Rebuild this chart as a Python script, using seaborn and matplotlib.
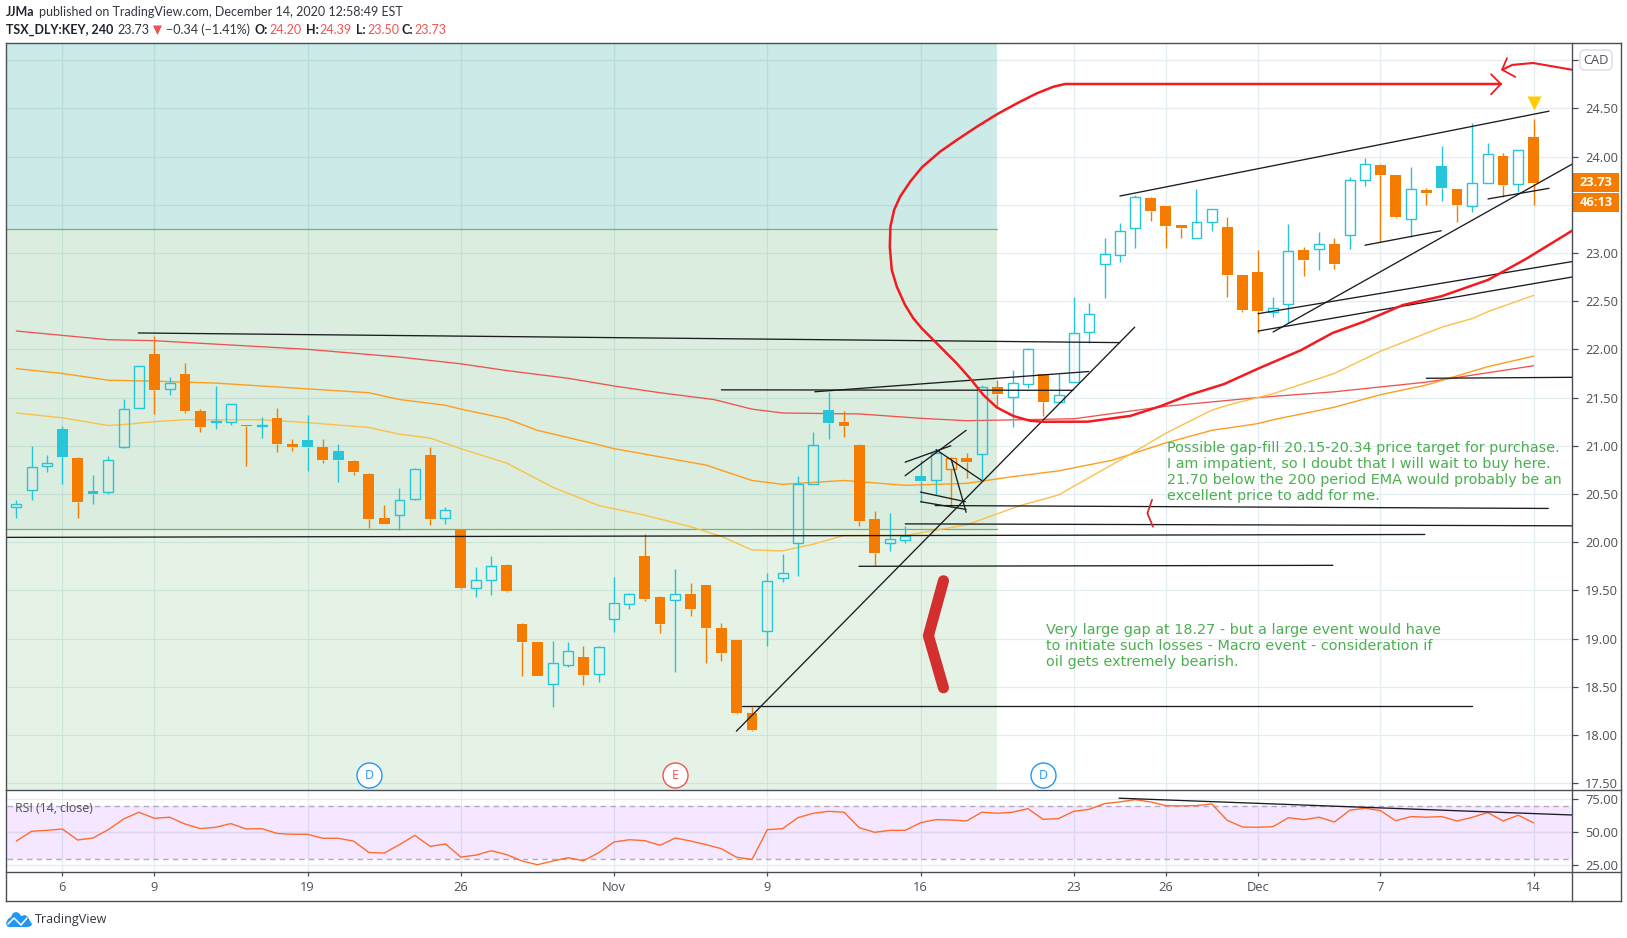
import matplotlib
matplotlib.use("Agg")
import matplotlib.pyplot as plt
from matplotlib.patches import Rectangle, Polygon, FancyBboxPatch
import seaborn as sns

sns.set_theme(style="white")
plt.rcParams["font.family"] = ["Open Sans", "DejaVu Sans"]

highs = [20.44,21.00,20.90,21.20,20.88,20.70,20.89,21.48,21.83,22.14,21.71,21.86,21.38,21.62,21.43,21.21,21.30,21.39,21.07,21.32,
         21.07,21.02,20.85,20.72,20.39,20.56,20.77,20.99,20.37,20.14,19.74,19.86,19.77,19.16,18.97,18.98,18.97,18.92,18.92,19.64,
         19.47,20.08,19.44,19.72,19.58,19.56,19.16,18.99,18.29,19.68,19.88,20.69,21.14,21.56,21.36,21.02,20.32,20.30,20.17,20.85,
         20.97,20.88,20.93,21.63,21.68,21.79,22.01,21.74,21.74,22.54,22.48,23.15,23.31,23.60,23.58,23.49,23.29,23.66,23.46,23.37,
         22.77,23.03,22.54,23.30,23.06,23.22,23.15,23.79,23.98,23.92,23.81,23.89,23.67,24.11,23.66,24.35,24.14,24.04,24.07,24.39]
lows = [20.25,20.44,20.73,20.60,20.25,20.40,20.50,20.98,21.39,21.33,21.53,21.34,21.14,21.17,21.22,20.79,21.08,20.94,20.95,20.74,
        20.82,20.62,20.70,20.15,20.19,20.13,20.44,20.18,20.19,19.51,19.43,19.45,19.48,18.61,18.61,18.29,18.71,18.52,18.55,19.07,
        19.31,19.39,19.06,18.65,19.23,18.75,18.77,18.22,18.04,18.92,19.59,19.65,20.60,21.07,21.09,20.17,19.75,19.91,19.99,20.42,
        20.49,20.36,20.67,20.64,21.41,21.19,21.60,21.31,21.45,21.66,22.07,22.53,22.91,23.05,23.33,23.05,23.16,23.16,23.23,22.54,
        22.39,22.17,22.34,22.27,22.76,22.82,22.83,23.04,23.69,23.11,23.36,23.17,23.50,23.54,23.32,23.42,23.73,23.58,23.63,23.50]
opens = [20.36,20.54,20.79,21.17,20.87,20.53,20.52,20.99,21.39,21.95,21.59,21.74,21.36,21.25,21.25,21.20,21.20,21.29,21.02,21.06,
         20.99,20.95,20.84,20.71,20.25,20.28,20.45,20.90,20.25,20.13,19.52,19.61,19.76,19.15,18.96,18.53,18.73,18.81,18.63,19.20,
         19.36,19.86,19.43,19.40,19.46,19.56,19.11,18.99,18.23,19.08,19.63,19.99,20.60,21.37,21.25,21.01,20.24,19.99,20.02,20.69,
         20.64,20.76,20.87,20.91,21.61,21.51,21.64,21.74,21.45,21.66,22.18,22.88,22.98,23.26,23.57,23.49,23.29,23.16,23.32,23.27,
         22.77,22.80,22.39,22.47,23.03,23.04,23.09,23.19,23.76,23.91,23.81,23.35,23.65,23.90,23.66,23.49,23.73,24.01,23.71,24.20]
closes = [20.40,20.78,20.82,20.88,20.42,20.50,20.85,21.38,21.83,21.58,21.65,21.36,21.19,21.26,21.43,21.20,21.22,21.02,20.99,20.99,
          20.85,20.85,20.73,20.24,20.19,20.44,20.76,20.24,20.33,19.53,19.61,19.75,19.49,18.96,18.61,18.75,18.87,18.62,18.91,19.37,
          19.46,19.41,19.15,19.46,19.31,19.11,18.85,18.23,18.05,19.60,19.68,20.60,21.01,21.24,21.21,20.22,19.89,20.03,20.06,20.63,
          20.92,20.87,20.83,21.61,21.54,21.65,22.00,21.45,21.53,22.17,22.37,22.99,23.23,23.58,23.43,23.28,23.26,23.32,23.46,22.77,
          22.41,22.40,22.43,23.02,22.93,23.09,22.89,23.76,23.92,23.81,23.37,23.66,23.62,23.67,23.50,23.73,24.03,23.70,24.07,23.73]

rsi_values = [43.4,50.8,51.5,52.5,44.2,45.7,52.0,60.1,65.2,60.6,61.4,56.3,52.8,53.8,56.6,52.5,52.8,49.2,48.5,48.5,
              45.5,45.5,43.4,34.8,34.3,40.7,47.7,39.4,41.2,31.3,32.8,36.1,33.1,28.3,25.5,28.3,30.8,28.5,34.6,42.7,
              44.4,43.7,40.2,45.7,43.4,40.7,37.6,31.1,29.5,52.0,52.8,61.1,64.4,65.9,65.2,53.5,50.0,51.5,51.5,57.3,
              59.6,59.3,58.6,65.2,64.4,65.2,67.9,59.8,60.4,65.9,67.4,71.7,73.0,74.7,73.0,70.2,70.0,70.2,71.5,59.1,
              54.0,53.8,54.3,61.1,59.6,61.4,57.8,66.7,68.2,66.4,58.8,61.9,61.4,61.9,58.6,61.4,64.9,58.6,62.9,57.1]

ma200_bars = [0,6,9,19,25,29,32,36,39,42,45.5,48,50,55,59,62,69,75,81,86,92,99]
ma200_vals = [22.19,22.10,22.09,22.00,21.92,21.85,21.78,21.70,21.62,21.55,21.48,21.38,21.34,21.33,21.285,21.26,21.28,21.41,21.50,21.56,21.66,21.83]
ma100_bars = [0,3,6,9,13,19,23,25,28,29,32,34,38,39,45,48,50,54,58,62,65,68,71.5,75,78,81,82,86,89,92,96,99]
ma100_vals = [21.80,21.75,21.68,21.67,21.65,21.59,21.55,21.48,21.42,21.38,21.28,21.16,21.01,20.97,20.80,20.64,20.60,20.64,20.59,20.61,20.68,20.74,20.85,21.03,21.16,21.23,21.27,21.40,21.53,21.63,21.82,21.93]
ma50_bars = [0,3,6,7,9,11,16,19,23,25,27,29,32,35,38,41,44,46,48,50,52,54,58,62,65.5,68,72,75,78,79,82,86,89,93,95,96,99]
ma50_vals = [21.34,21.29,21.21,21.22,21.25,21.27,21.27,21.24,21.19,21.12,21.08,20.97,20.82,20.57,20.38,20.28,20.16,20.06,19.92,19.91,19.98,20.07,20.07,20.18,20.38,20.49,20.85,21.13,21.37,21.42,21.54,21.75,21.98,22.23,22.32,22.39,22.56]

curve_bars = [96.86,68.97,68.43,67.67,66.58,65.28,63.97,62.67,61.36,60.27,59.08,58.32,57.66,57.27,57.03,56.99,57.12,57.45,57.99,58.53,59.08,59.95,61.36,62.23,63.10,63.97,65.06,66.15,67.02,69.91,72.69,74.64,76.58,78.8,81.02,83.8,85.88,87.97,90.47,92.97,96.02,98.52,101.5]
curve_vals = [24.752,24.752,24.752,24.724,24.655,24.551,24.437,24.309,24.171,24.05,23.887,23.739,23.583,23.445,23.272,23.064,22.822,22.649,22.459,22.321,22.217,22.079,21.854,21.698,21.526,21.398,21.308,21.259,21.249,21.25,21.31,21.41,21.53,21.64,21.80,21.99,22.17,22.29,22.46,22.55,22.72,22.94,23.23]
head_bars = [96.22,96.86,96.22]
head_vals = [24.853,24.752,24.645]
arrow2_bars = [101.5,98.96,97.6,96.94]
arrow2_vals = [24.90,24.97,24.95,24.90]
head2_bars = [97.26,96.94,97.8]
head2_vals = [25.02,24.90,24.825]
chevron_bars = [60.49,59.51,60.49]
chevron_vals = [19.60,19.03,18.49]
bracket_bars = [74.1,73.8,74.16]
bracket_vals = [20.44,20.30,20.16]

trend_x0 = [7.96,-0.64,46.98,52.1,46,59.95,58,54.98,47.33,72,87.99,82,96.02,81.02,81.02,92,57.99,57.99,60.01,61,58.99,58.99]
trend_y0 = [22.17,20.05,18.04,21.56,21.58,20.38,20.19,19.75,18.30,23.59,23.08,22.18,23.56,22.37,22.19,21.70,20.83,20.69,20.96,20.86,20.52,20.42]
trend_x1 = [72,91.9,72.97,69.97,68.94,99.95,101.5,85.9,94.96,100,92.97,101.5,100,101.5,101.5,101.5,60.97,61.97,62.99,61.97,61.92,61.97]
trend_y1 = [22.07,20.08,22.23,21.77,21.575,20.35,20.17,19.76,18.30,24.47,23.23,23.92,23.67,22.91,22.75,21.71,21.0,21.16,20.64,20.31,20.42,20.34]
rsi_trend_bars = [71.95,101.5]
rsi_trend_vals = [75.8,63.1]

price_ticks = [17.5,18,18.5,19,19.5,20,20.5,21,21.5,22,22.5,23,23.5,24,24.5,25]
price_labels = ["17.50","18.00","18.50","19.00","19.50","20.00","20.50","21.00","21.50","22.00","22.50","23.00","","24.00","24.50",""]
date_bars = [3,9,19,29,39,49,59,69,75,81,89,99]
date_labels = ["6","9","19","26","Nov","9","16","23","26","Dec","7","14"]
rsi_ticks = [25,50,75]
rsi_labels = ["25.00","50.00","75.00"]
event_bars = [23,43,67]
event_labels = ["D","E","D"]

note_one = ("Possible gap-fill 20.15-20.34 price target for purchase.\n"
            "I am impatient, so I doubt that I will wait to buy here.\n"
            "21.70 below the 200 period EMA would probably be an\n"
            "excellent price to add for me.")
note_two = ("Very large gap at 18.27 - but a large event would have\n"
            "to initiate such losses - Macro event - consideration if\n"
            "oil gets extremely bearish.")

W, H = 1627, 938
L, R = 6.5, 1572.0
TOP, MID, BOT = 43.5, 790.0, 872.0
BLUE, ORANGE = "#26c6da", "#f57c00"
GRID, FRAME, TXT = "#e3edf2", "#4b4e58", "#4d505a"
GREEN_TXT = "#4caf50"

fig = plt.figure(figsize=(W / 100, H / 100), dpi=100, facecolor="white")
ax = fig.add_axes([L / W, 1 - MID / H, (R - L) / W, (MID - TOP) / H])
rax = fig.add_axes([L / W, 1 - BOT / H, (R - L) / W, (BOT - MID) / H], sharex=ax)
ov = fig.add_axes([0, 0, 1, 1], zorder=10)
ov.set_xlim(0, W); ov.set_ylim(H, 0); ov.axis("off"); ov.patch.set_alpha(0)

x_min, x_max = -0.64, 101.5
ax.set_xlim(x_min, x_max)
ax.set_ylim(17.43, 25.172)
rax.set_ylim(20, 82)

for a in (ax, rax):
    a.set_facecolor("white")
    a.yaxis.tick_right()
    for s in a.spines.values():
        s.set_visible(False)
    for b in date_bars:
        a.axvline(b, color=GRID, lw=0.9, zorder=0.5)
for p in price_ticks:
    ax.axhline(p, color=GRID, lw=0.9, zorder=0.5)
for p in rsi_ticks:
    rax.axhline(p, color=GRID, lw=0.9, zorder=0.5)

# shaded zones
zone_end = 64.0
ax.add_patch(Rectangle((x_min, 23.245), zone_end - x_min, 25.172 - 23.245, fc="#00968c", alpha=0.2, lw=0, zorder=1))
ax.add_patch(Rectangle((x_min, 17.43), zone_end - x_min, 23.245 - 17.43, fc="#4caf50", alpha=0.14, lw=0, zorder=1))
ax.add_patch(Rectangle((x_min, 20.14), zone_end - x_min, 23.245 - 20.14, fc="#2e8b57", alpha=0.05, lw=0, zorder=1))
for level in (23.245, 20.14):
    ax.plot([x_min, zone_end], [level, level], color="#66bb6a", lw=0.9, zorder=1.2)

# moving averages
sns.lineplot(x=ma200_bars, y=ma200_vals, ax=ax, color="#ef5350", lw=0.95, zorder=2, estimator=None, sort=False)
sns.lineplot(x=ma100_bars, y=ma100_vals, ax=ax, color="#ff9d1f", lw=1.0, zorder=2, estimator=None, sort=False)
sns.lineplot(x=ma50_bars, y=ma50_vals, ax=ax, color="#fcc04a", lw=1.0, zorder=2, estimator=None, sort=False)

# candles
bar_w = 0.70
for i, (o, h, l, c) in enumerate(zip(opens, highs, lows, closes)):
    prev = closes[i - 1] if i else o
    col = BLUE if c >= prev else ORANGE
    top, bot = max(o, c), min(o, c)
    ax.vlines(i, top, h, color=col, lw=1.0, zorder=3)
    ax.vlines(i, l, bot, color=col, lw=1.0, zorder=3)
    if c > o:
        ax.bar(i, top - bot, bottom=bot, width=bar_w - 0.05, facecolor="none", edgecolor=col, lw=1.0, zorder=3.2)
    else:
        ax.bar(i, max(top - bot, 0.02), bottom=bot, width=bar_w, color=col, lw=0, zorder=3.2)

# trend lines
for x0, y0, x1, y1 in zip(trend_x0, trend_y0, trend_x1, trend_y1):
    sns.lineplot(x=[x0, x1], y=[y0, y1], ax=ax, color="#1a1c20", lw=0.95, zorder=4, estimator=None, sort=False)

# hand drawings
sns.lineplot(x=curve_bars, y=curve_vals, ax=ax, color="#f41a1f", lw=1.8, zorder=4.5, estimator=None, sort=False)
sns.lineplot(x=head_bars, y=head_vals, ax=ax, color="#f41a1f", lw=1.3, zorder=4.5, estimator=None, sort=False)
sns.lineplot(x=arrow2_bars, y=arrow2_vals, ax=ax, color="#f41a1f", lw=1.5, zorder=4.5, estimator=None, sort=False)
sns.lineplot(x=head2_bars, y=head2_vals, ax=ax, color="#f41a1f", lw=1.3, zorder=4.5, estimator=None, sort=False)
sns.lineplot(x=bracket_bars, y=bracket_vals, ax=ax, color="#d32f2f", lw=1.3, zorder=4.5, estimator=None, sort=False)
ax.plot(chevron_bars, chevron_vals, color="#d32f2f", lw=8, solid_capstyle="round", solid_joinstyle="round", zorder=4.5)

ax.plot([99.03], [24.55], marker="v", color="#ffcb05", ms=10, mec="none", zorder=5, ls="none")

# notes
ax.text(75.1, 21.05, note_one, color=GREEN_TXT, fontsize=10.35, family="DejaVu Sans", va="top", ha="left", linespacing=1.17, zorder=6)
ax.text(67.2, 19.16, note_two, color=GREEN_TXT, fontsize=10.35, family="DejaVu Sans", va="top", ha="left", linespacing=1.17, zorder=6)

# events
for b, t in zip(event_bars, event_labels):
    col = "#ef5350" if t == "E" else "#2196f3"
    ax.plot([b], [17.59], marker="o", ms=18, mfc="white", mec=col, mew=1.0, ls="none", zorder=6)
    ax.text(b, 17.585, t, color=col, ha="center", va="center", fontsize=9, zorder=7)

# RSI pane
rax.axhspan(30, 70, fc="#9915ff", alpha=0.1, lw=0, zorder=1)
for level in (30, 70):
    rax.axhline(level, color="#b5a9bd", lw=1, ls=(0, (4, 3)), zorder=1.5)
rax.axhline(50, color="#dcd6f0", lw=0.9, zorder=1.2)
sns.lineplot(x=list(range(len(rsi_values))), y=rsi_values, ax=rax, color="#ff6d2e", lw=1.0, zorder=3, estimator=None, sort=False)
sns.lineplot(x=rsi_trend_bars, y=rsi_trend_vals, ax=rax, color="#1a1c20", lw=0.95, zorder=4, estimator=None, sort=False)
ov.text(15, 808.5, "RSI (14, close)", color=TXT, fontsize=8.8, va="center", ha="left")

# axes ticks
ax.set_yticks(price_ticks, price_labels)
rax.set_yticks(rsi_ticks, rsi_labels)
for a in (ax, rax):
    a.tick_params(axis="y", right=True, left=False, length=4.5, width=0.9, color=FRAME, labelcolor=TXT, labelsize=9.3, pad=5)
ax.tick_params(axis="x", bottom=False, labelbottom=False)
rax.set_xticks(date_bars, date_labels)
rax.tick_params(axis="x", bottom=True, length=3, width=0.9, color=FRAME, labelcolor=TXT, labelsize=9.3, pad=3.5)
ax.set_xlabel(""); ax.set_ylabel(""); rax.set_xlabel(""); rax.set_ylabel("")

# frame
for (x0, y0, x1, y1) in [(L, TOP, 1621, TOP), (L, 901, 1621, 901), (L, TOP, L, 901), (1621, TOP, 1621, 901),
                         (R, TOP, R, 901), (L, MID, 1621, MID), (L, BOT, 1621, BOT)]:
    ov.plot([x0, x1], [y0, y1], color=FRAME, lw=1.0, solid_capstyle="projecting")

# price tags
for (y0, y1, t) in [(172.7, 192.0, "23.73"), (192.7, 212.0, "46:13")]:
    ov.add_patch(Rectangle((1572.5, y0), 46.5, y1 - y0, fc=ORANGE, lw=0))
    ov.text(1596, (y0 + y1) / 2, t, color="white", fontsize=9.3, fontweight="bold", ha="center", va="center")

# currency button
ov.add_patch(FancyBboxPatch((1580, 50), 32, 20, boxstyle="round,pad=0,rounding_size=5", fc="white", ec="#d8dbe2", lw=1))
ov.text(1596, 60, "CAD", color=TXT, fontsize=9.3, ha="center", va="center")

# header
hdr = 9.0
ov.text(6, 12.5, "JJMa", color="#20232b", fontsize=hdr, family="Lato", fontweight="bold", va="center")
ov.text(39, 12.5, "published on TradingView.com, December 14, 2020 12:58:49 EST", color="#33363e", fontsize=hdr, family="Lato", va="center")
ov.text(6, 30, "TSX_DLY:KEY, 240", color="#20232b", fontsize=hdr, family="Lato", fontweight="bold", va="center")
ov.text(117, 30, "23.73", color="#33363e", fontsize=hdr, family="Lato", va="center")
ov.add_patch(Polygon([(153, 25.5), (162, 25.5), (157.5, 35)], fc="#ef5350", lw=0))
ov.text(166, 30, "\u22120.34 (\u22121.41%)", color="#33363e", fontsize=hdr, family="Lato", va="center")
for x, t in [(255, "O:"), (306, "H:"), (356, "L:"), (402, "C:")]:
    ov.text(x, 30, t, color="#20232b", fontsize=hdr, family="Lato", fontweight="bold", va="center")
for x, t in [(269, "24.20"), (319, "24.39"), (367, "23.50"), (414, "23.73")]:
    ov.text(x, 30, t, color="#ef5350", fontsize=hdr, family="Lato", va="center")

# footer logo
ov.add_patch(Polygon([(6, 923), (8, 919), (11, 917), (13, 913), (16, 912), (19, 913), (21, 916), (25, 915), (28, 917), (30, 921), (32, 924),
                      (31, 926), (28, 927), (9, 927), (7, 926)],
                     closed=True, fc="#2196f3", lw=0))
ov.plot([8, 14, 21, 27], [924, 918, 925, 918], color="white", lw=1.1)
ov.text(34.5, 920, "TradingView", color="#30333b", fontsize=9, va="center", ha="left")

fig.savefig("out.png", dpi=100)
